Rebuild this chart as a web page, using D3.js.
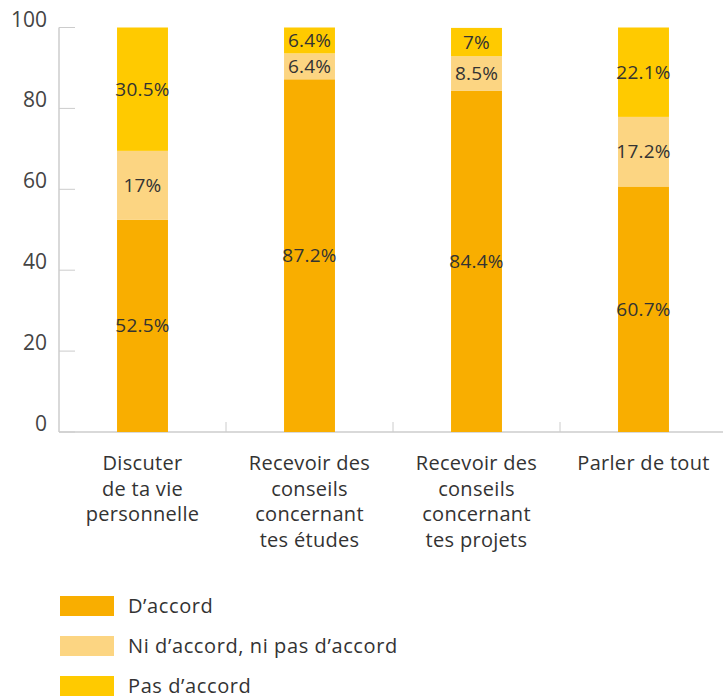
<!DOCTYPE html>
<html>
<head>
<meta charset="utf-8">
<script src="https://cdn.jsdelivr.net/npm/d3@7"></script>
<style>
  body { margin: 0; background: #fff; }
  svg { display: block; font-family: "Open Sans", "Noto Sans", sans-serif; }
</style>
</head>
<body>
<svg id="chart" width="723" height="697"></svg>
<script>
// --- Data ---
const categories = [
  ["Discuter", "de ta vie", "personnelle"],
  ["Recevoir des", "conseils", "concernant", "tes études"],
  ["Recevoir des", "conseils", "concernant", "tes projets"],
  ["Parler de tout"]
];
const seriesNames = ["D’accord", "Ni d’accord, ni pas d’accord", "Pas d’accord"];
const daccord = [52.5, 87.2, 84.4, 60.7];
const neutre = [17, 6.4, 8.5, 17.2];
const pasDaccord = [30.5, 6.4, 7, 22.1];
const yTicks = [0, 20, 40, 60, 80, 100];
const colors = ["#F9AE00", "#FCD582", "#FFCA00"];

// --- Setup ---
const svg = d3.select("#chart");
const axisColor = "#cccccc";
const textColor = "#333333";

const x = d3.scaleBand().domain(d3.range(categories.length)).range([59, 727]).padding(0);
const y = d3.scaleLinear().domain([0, 100]).range([432, 27.5]);
const barW = x.bandwidth() * 0.305;

// stack rows
const rows = categories.map((c, i) => ({ i, a: daccord[i], b: neutre[i], c: pasDaccord[i] }));
const stack = d3.stack().keys(["a", "b", "c"])(rows);

// --- Axes ---
const yAxis = svg.append("g");
yAxis.append("line")
  .attr("x1", 59).attr("x2", 59).attr("y1", y(100)).attr("y2", y(0))
  .attr("stroke", axisColor).attr("stroke-width", 1.5);
yAxis.selectAll(".tick").data(yTicks).join("line")
  .attr("x1", 59).attr("x2", 75)
  .attr("y1", d => y(d)).attr("y2", d => y(d))
  .attr("stroke", axisColor).attr("stroke-width", 1);
yAxis.selectAll("text").data(yTicks).join("text")
  .attr("x", 47).attr("y", d => y(d) - 1)
  .attr("text-anchor", "end")
  .style("font-size", "21px").style("fill", "#444")
  .text(d => d);

const xAxis = svg.append("g");
xAxis.append("line")
  .attr("x1", 59).attr("x2", 723).attr("y1", y(0)).attr("y2", y(0))
  .attr("stroke", axisColor).attr("stroke-width", 1.5);
xAxis.selectAll("line.sep").data(d3.range(1, categories.length)).join("line")
  .attr("class", "sep")
  .attr("x1", d => x(d)).attr("x2", d => x(d))
  .attr("y1", y(0) - 10).attr("y2", y(0))
  .attr("stroke", axisColor);

xAxis.selectAll("text.cat").data(categories).join("text")
  .attr("class", "cat")
  .attr("text-anchor", "middle")
  .style("font-size", "20px").style("letter-spacing", "0.3px").style("fill", textColor)
  .each(function(lines, i) {
    d3.select(this).selectAll("tspan").data(lines).join("tspan")
      .attr("x", x(i) + x.bandwidth() / 2)
      .attr("y", (d, j) => 470 + j * 25.5)
      .text(d => d);
  });

// --- Bars ---
const layer = svg.append("g").selectAll("g").data(stack).join("g")
  .attr("fill", (d, k) => colors[k]);

layer.selectAll("rect").data(d => d).join("rect")
  .attr("x", d => x(d.data.i) + x.bandwidth() / 2 - barW / 2)
  .attr("width", barW)
  .attr("y", d => y(d[1]))
  .attr("height", d => y(d[0]) - y(d[1]));

layer.selectAll("text").data(d => d).join("text")
  .attr("x", d => x(d.data.i) + x.bandwidth() / 2)
  .attr("y", d => y((d[0] + d[1]) / 2))
  .attr("dy", "0.35em")
  .attr("text-anchor", "middle")
  .style("font-size", "19px").style("letter-spacing", "0.2px").style("fill", textColor)
  .text(d => (d[1] - d[0]).toFixed(1).replace(/\.0$/, "") + "%");

// --- Legend ---
const legend = svg.append("g").selectAll("g").data(seriesNames).join("g")
  .attr("transform", (d, k) => `translate(60, ${596 + k * 40})`);
legend.append("rect").attr("width", 54).attr("height", 20).attr("fill", (d, k) => colors[k]);
legend.append("text")
  .attr("x", 68).attr("y", 10).attr("dy", "0.35em")
  .style("font-size", "20px").style("letter-spacing", "0.6px").style("fill", textColor)
  .text(d => d);
</script>
</body>
</html>
